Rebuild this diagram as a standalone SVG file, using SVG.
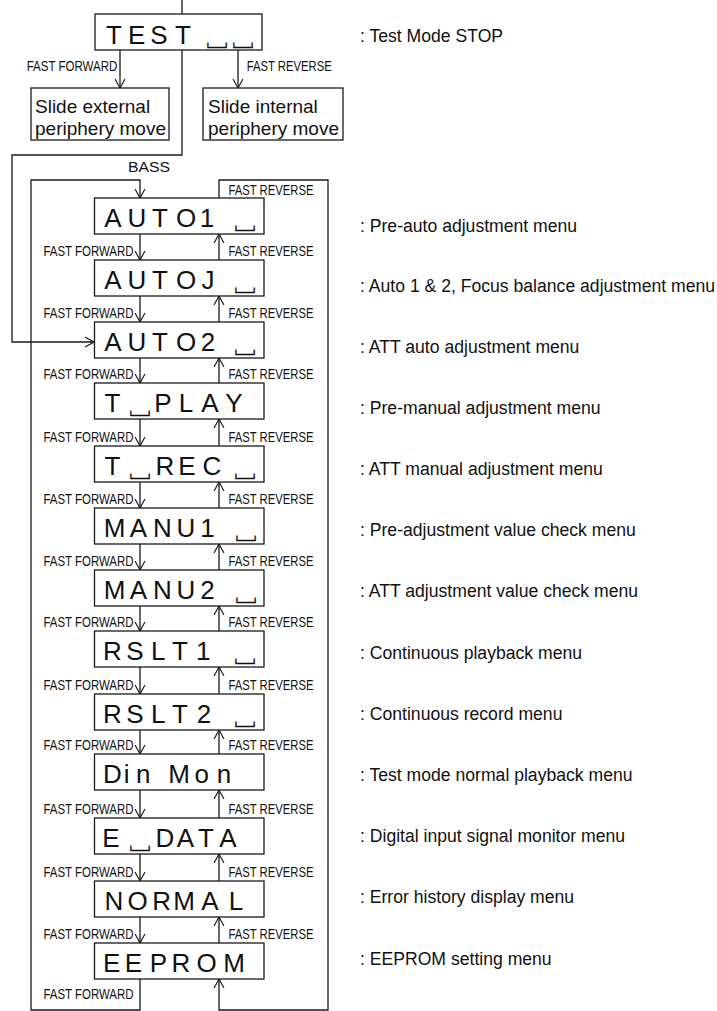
<svg xmlns="http://www.w3.org/2000/svg" width="717" height="1011" viewBox="0 0 717 1011">
<style>
.box{fill:#fff;stroke:#1a1a1a;stroke-width:1.3}
.ln{fill:none;stroke:#1a1a1a;stroke-width:1.3}
.big{font-family:"Liberation Sans","DejaVu Sans",sans-serif;font-size:26px;fill:#111;text-anchor:middle}
.sp{font-family:"Noto Sans CJK JP","DejaVu Sans",sans-serif;font-size:26px;fill:#111;stroke:#111;stroke-width:0.35;text-anchor:middle}
.lab{font-family:"Liberation Sans",Arial,sans-serif;font-size:15.5px;fill:#111}
.desc{font-family:"Liberation Sans",Arial,sans-serif;font-size:17.6px;fill:#111}
.sl{font-family:"Liberation Sans",Arial,sans-serif;font-size:19px;fill:#111}
</style>
<defs>
<marker id="v" viewBox="0 0 10 12" refX="10" refY="6" markerWidth="9" markerHeight="12" markerUnits="userSpaceOnUse" orient="auto">
<path d="M0,0.5 L10,6 L0,11.5" fill="none" stroke="#1a1a1a" stroke-width="1.3"/>
</marker>
</defs>

<g id="connectors">
<line class="ln" x1="182" y1="0" x2="182" y2="14"/>
<line class="ln" x1="120" y1="50" x2="120" y2="88" marker-end="url(#v)"/>
<line class="ln" x1="238" y1="50" x2="238" y2="88" marker-end="url(#v)"/>
<polyline class="ln" points="182,50 182,155 12,155 12,342 94,342" marker-end="url(#v)"/>
<polyline class="ln" points="140,979 140,1010 31,1010 31,180 140,180 140,198" marker-end="url(#v)"/>
<polyline class="ln" points="219,198 219,180 328,180 328,1010 219,1010 219,979" marker-end="url(#v)"/>
<line class="ln" x1="140" y1="234" x2="140" y2="260" marker-end="url(#v)"/>
<line class="ln" x1="219" y1="260" x2="219" y2="234" marker-end="url(#v)"/>
<line class="ln" x1="140" y1="296" x2="140" y2="322" marker-end="url(#v)"/>
<line class="ln" x1="219" y1="322" x2="219" y2="296" marker-end="url(#v)"/>
<line class="ln" x1="140" y1="358" x2="140" y2="383" marker-end="url(#v)"/>
<line class="ln" x1="219" y1="383" x2="219" y2="358" marker-end="url(#v)"/>
<line class="ln" x1="140" y1="419" x2="140" y2="446" marker-end="url(#v)"/>
<line class="ln" x1="219" y1="446" x2="219" y2="419" marker-end="url(#v)"/>
<line class="ln" x1="140" y1="482" x2="140" y2="508" marker-end="url(#v)"/>
<line class="ln" x1="219" y1="508" x2="219" y2="482" marker-end="url(#v)"/>
<line class="ln" x1="140" y1="544" x2="140" y2="570" marker-end="url(#v)"/>
<line class="ln" x1="219" y1="570" x2="219" y2="544" marker-end="url(#v)"/>
<line class="ln" x1="140" y1="606" x2="140" y2="631" marker-end="url(#v)"/>
<line class="ln" x1="219" y1="631" x2="219" y2="606" marker-end="url(#v)"/>
<line class="ln" x1="140" y1="667" x2="140" y2="694" marker-end="url(#v)"/>
<line class="ln" x1="219" y1="694" x2="219" y2="667" marker-end="url(#v)"/>
<line class="ln" x1="140" y1="730" x2="140" y2="754" marker-end="url(#v)"/>
<line class="ln" x1="219" y1="754" x2="219" y2="730" marker-end="url(#v)"/>
<line class="ln" x1="140" y1="790" x2="140" y2="818" marker-end="url(#v)"/>
<line class="ln" x1="219" y1="818" x2="219" y2="790" marker-end="url(#v)"/>
<line class="ln" x1="140" y1="854" x2="140" y2="881" marker-end="url(#v)"/>
<line class="ln" x1="219" y1="881" x2="219" y2="854" marker-end="url(#v)"/>
<line class="ln" x1="140" y1="917" x2="140" y2="943" marker-end="url(#v)"/>
<line class="ln" x1="219" y1="943" x2="219" y2="917" marker-end="url(#v)"/>
<g class="lab">
<text x="26.7" y="71" textLength="90.6" lengthAdjust="spacingAndGlyphs">FAST FORWARD</text>
<text x="246.7" y="71" textLength="85" lengthAdjust="spacingAndGlyphs">FAST REVERSE</text>
<text x="128" y="171.7" textLength="42" lengthAdjust="spacingAndGlyphs" style="font-size:15px">BASS</text>
<text x="228.5" y="195" textLength="85" lengthAdjust="spacingAndGlyphs">FAST REVERSE</text>
<text x="43.5" y="999" textLength="90" lengthAdjust="spacingAndGlyphs">FAST FORWARD</text>
<text x="43.5" y="256" textLength="90" lengthAdjust="spacingAndGlyphs">FAST FORWARD</text>
<text x="228.5" y="256" textLength="85" lengthAdjust="spacingAndGlyphs">FAST REVERSE</text>
<text x="43.5" y="318" textLength="90" lengthAdjust="spacingAndGlyphs">FAST FORWARD</text>
<text x="228.5" y="318" textLength="85" lengthAdjust="spacingAndGlyphs">FAST REVERSE</text>
<text x="43.5" y="379" textLength="90" lengthAdjust="spacingAndGlyphs">FAST FORWARD</text>
<text x="228.5" y="379" textLength="85" lengthAdjust="spacingAndGlyphs">FAST REVERSE</text>
<text x="43.5" y="442" textLength="90" lengthAdjust="spacingAndGlyphs">FAST FORWARD</text>
<text x="228.5" y="442" textLength="85" lengthAdjust="spacingAndGlyphs">FAST REVERSE</text>
<text x="43.5" y="504" textLength="90" lengthAdjust="spacingAndGlyphs">FAST FORWARD</text>
<text x="228.5" y="504" textLength="85" lengthAdjust="spacingAndGlyphs">FAST REVERSE</text>
<text x="43.5" y="566" textLength="90" lengthAdjust="spacingAndGlyphs">FAST FORWARD</text>
<text x="228.5" y="566" textLength="85" lengthAdjust="spacingAndGlyphs">FAST REVERSE</text>
<text x="43.5" y="627" textLength="90" lengthAdjust="spacingAndGlyphs">FAST FORWARD</text>
<text x="228.5" y="627" textLength="85" lengthAdjust="spacingAndGlyphs">FAST REVERSE</text>
<text x="43.5" y="690" textLength="90" lengthAdjust="spacingAndGlyphs">FAST FORWARD</text>
<text x="228.5" y="690" textLength="85" lengthAdjust="spacingAndGlyphs">FAST REVERSE</text>
<text x="43.5" y="750" textLength="90" lengthAdjust="spacingAndGlyphs">FAST FORWARD</text>
<text x="228.5" y="750" textLength="85" lengthAdjust="spacingAndGlyphs">FAST REVERSE</text>
<text x="43.5" y="814" textLength="90" lengthAdjust="spacingAndGlyphs">FAST FORWARD</text>
<text x="228.5" y="814" textLength="85" lengthAdjust="spacingAndGlyphs">FAST REVERSE</text>
<text x="43.5" y="877" textLength="90" lengthAdjust="spacingAndGlyphs">FAST FORWARD</text>
<text x="228.5" y="877" textLength="85" lengthAdjust="spacingAndGlyphs">FAST REVERSE</text>
<text x="43.5" y="939" textLength="90" lengthAdjust="spacingAndGlyphs">FAST FORWARD</text>
<text x="228.5" y="939" textLength="85" lengthAdjust="spacingAndGlyphs">FAST REVERSE</text>
</g>
</g>

<g id="test">
<rect class="box" x="95" y="14" width="167" height="36"/>
<text class="big" x="114 136.7 159 183" y="44">TEST</text>
<text class="sp" x="217" y="45">␣</text>
<text class="sp" x="243" y="45">␣</text>
</g>
<g id="slide-ext">
<rect class="box" x="31" y="88" width="138" height="52"/>
<text class="sl" x="35" y="113">Slide external</text>
<text class="sl" x="35" y="135">periphery move</text>
</g>
<g id="slide-int">
<rect class="box" x="203" y="88" width="140" height="52"/>
<text class="sl" x="208" y="113">Slide internal</text>
<text class="sl" x="208" y="135">periphery move</text>
</g>

<g id="auto1"><rect class="box" x="94.5" y="198" width="169.5" height="36"/><text class="big" x="113 137 160 186 207" y="227">AUTO1</text><text class="sp" x="245" y="228">␣</text></g>
<g id="autoj"><rect class="box" x="94.5" y="260" width="169.5" height="36"/><text class="big" x="113 137 160 186 208" y="289">AUTOJ</text><text class="sp" x="245" y="290">␣</text></g>
<g id="auto2"><rect class="box" x="94.5" y="322" width="169.5" height="36"/><text class="big" x="113 137 160 186 208" y="351">AUTO2</text><text class="sp" x="245" y="352">␣</text></g>
<g id="tplay"><rect class="box" x="94.5" y="383" width="169.5" height="36"/><text class="big" x="112.5" y="412">T</text><text class="sp" x="140" y="413">␣</text><text class="big" x="163 186 210 234" y="412">PLAY</text></g>
<g id="trec"><rect class="box" x="94.5" y="446" width="169.5" height="36"/><text class="big" x="112.5" y="475">T</text><text class="sp" x="140" y="476">␣</text><text class="big" x="165 187 212" y="475">REC</text><text class="sp" x="245" y="476">␣</text></g>
<g id="manu1"><rect class="box" x="94.5" y="508" width="169.5" height="36"/><text class="big" x="114.7 138.3 162.5 186 207.5" y="537">MANU1</text><text class="sp" x="246" y="538">␣</text></g>
<g id="manu2"><rect class="box" x="94.5" y="570" width="169.5" height="36"/><text class="big" x="114.7 138.3 162.5 186 207.5" y="599">MANU2</text><text class="sp" x="246" y="600">␣</text></g>
<g id="rslt1"><rect class="box" x="94.5" y="631" width="169.5" height="36"/><text class="big" x="112.5 135 158.3 180 203.3" y="660">RSLT1</text><text class="sp" x="245" y="661">␣</text></g>
<g id="rslt2"><rect class="box" x="94.5" y="694" width="169.5" height="36"/><text class="big" x="112.5 135 158.3 180 204" y="723">RSLT2</text><text class="sp" x="245" y="724">␣</text></g>
<g id="dinmon"><rect class="box" x="94.5" y="754" width="169.5" height="36"/><text class="big" x="112.5 126.7 143.3 160 179 201.7 224" y="783">Din Mon</text></g>
<g id="edata"><rect class="box" x="94.5" y="818" width="169.5" height="36"/><text class="big" x="111" y="847">E</text><text class="sp" x="140" y="848">␣</text><text class="big" x="165 185.5 206 228" y="847">DATA</text></g>
<g id="normal"><rect class="box" x="94.5" y="881" width="169.5" height="36"/><text class="big" x="114 137.5 161.7 184 210 236" y="910">NORMAL</text></g>
<g id="eeprom"><rect class="box" x="94.5" y="943" width="169.5" height="36"/><text class="big" x="111.7 133.3 158.3 181 206.7 234" y="972">EEPROM</text></g>

<g id="descriptions" class="desc">
<text x="360" y="42">: Test Mode STOP</text>
<text x="360" y="232">: Pre-auto adjustment menu</text>
<text x="360" y="292">: Auto 1 &amp; 2, Focus balance adjustment menu</text>
<text x="360" y="353">: ATT auto adjustment menu</text>
<text x="360" y="414">: Pre-manual adjustment menu</text>
<text x="360" y="475">: ATT manual adjustment menu</text>
<text x="360" y="536">: Pre-adjustment value check menu</text>
<text x="360" y="597">: ATT adjustment value check menu</text>
<text x="360" y="659">: Continuous playback menu</text>
<text x="360" y="720">: Continuous record menu</text>
<text x="360" y="781">: Test mode normal playback menu</text>
<text x="360" y="842">: Digital input signal monitor menu</text>
<text x="360" y="903">: Error history display menu</text>
<text x="360" y="965">: EEPROM setting menu</text>
</g>
</svg>
